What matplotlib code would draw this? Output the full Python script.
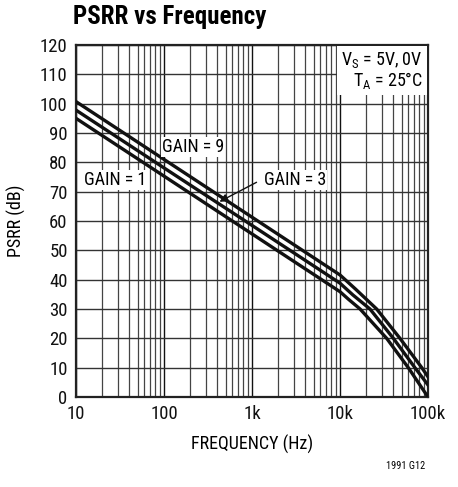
import matplotlib
matplotlib.use("Agg")
import matplotlib.pyplot as plt
from matplotlib.ticker import FixedLocator, LogLocator, NullFormatter

# PSRR vs frequency
freq9 = [10, 100, 1000, 10000, 15000, 26100, 48000, 85000, 100000]
psrr_gain9 = [100.7, 81.0, 61.3, 41.6, 36.8, 30.0, 20.0, 10.0, 6.9]
freq3 = [10, 100, 1000, 10000, 14000, 21900, 40400, 71000, 100000]
psrr_gain3 = [97.8, 78.1, 58.5, 38.8, 34.8, 30.0, 20.0, 10.0, 4.1]
freq1 = [10, 100, 1000, 10000, 12500, 16900, 33900, 59700, 100000]
psrr_gain1 = [95.0, 75.3, 55.6, 35.9, 33.3, 30.0, 20.0, 10.0, 0.0]

x_ticks = [10, 100, 1000, 10000, 100000]
x_labels = ["10", "100", "1k", "10k", "100k"]
y_ticks = list(range(0, 121, 10))

plt.rcParams["font.family"] = ["Roboto Condensed", "Liberation Sans Narrow",
                               "Liberation Sans", "DejaVu Sans"]

W, H = 458, 487
fig = plt.figure(figsize=(W / 100, H / 100), dpi=100)
ax = fig.add_axes([76 / W, 1 - 397 / H, 352 / W, 352 / H])


# pixel positions (top-left origin) -> figure fraction
def px(x, y):
    return (x / W, 1 - y / H)


ax.set_xscale("log")
ax.set_xlim(10, 100000)
ax.set_ylim(0, 120)

ax.xaxis.set_major_locator(FixedLocator(x_ticks))
ax.set_xticklabels(x_labels)
ax.xaxis.set_minor_locator(LogLocator(base=10, subs=range(2, 10)))
ax.xaxis.set_minor_formatter(NullFormatter())
ax.yaxis.set_major_locator(FixedLocator(y_ticks))

ax.grid(which="major", axis="x", color="#111111", lw=1.0)
ax.grid(which="minor", axis="x", color="#444444", lw=0.9)
ax.grid(which="major", axis="y", color="#333333", lw=1.0)
ax.tick_params(which="both", length=0, labelsize=13.5, pad=6, colors="#111111")
for s in ax.spines.values():
    s.set_linewidth(1.6)
    s.set_color("#222222")

for fx, ys in ((freq9, psrr_gain9), (freq3, psrr_gain3), (freq1, psrr_gain1)):
    ax.plot(fx, ys, color="#111111", lw=2.4, solid_joinstyle="round", zorder=3)

box = dict(facecolor="white", edgecolor="none", pad=0.5)
fig.text(*px(193, 147), "GAIN = 9", fontsize=13, ha="center", va="center", bbox=box)
fig.text(*px(115, 180), "GAIN = 1", fontsize=13, ha="center", va="center", bbox=box)
fig.text(*px(295, 180), "GAIN = 3", fontsize=13, ha="center", va="center", bbox=box)

ax.annotate("", xy=px(217, 203), xytext=px(259, 181), xycoords="figure fraction",
            textcoords="figure fraction",
            arrowprops=dict(arrowstyle="-|>", color="#111111", lw=1.0, mutation_scale=12),
            zorder=5)

ax.text(0.985, 0.985, "$\\mathregular{V_S}$ = 5V, 0V\n$\\mathregular{T_A}$ = 25°C",
        transform=ax.transAxes, fontsize=13, ha="right", va="top", linespacing=1.0,
        bbox=dict(facecolor="white", edgecolor="none", pad=3), zorder=4)

ax.set_xlabel("FREQUENCY (Hz)", fontsize=13, labelpad=8)
ax.set_ylabel("PSRR (dB)", fontsize=13, labelpad=10)

fig.text(*px(73, 17), "PSRR vs Frequency", fontsize=18, fontweight="bold", va="center", ha="left")
fig.text(*px(425, 466), "1991 G12", fontsize=7.5, va="center", ha="right")

fig.savefig("out.png", dpi=100)
